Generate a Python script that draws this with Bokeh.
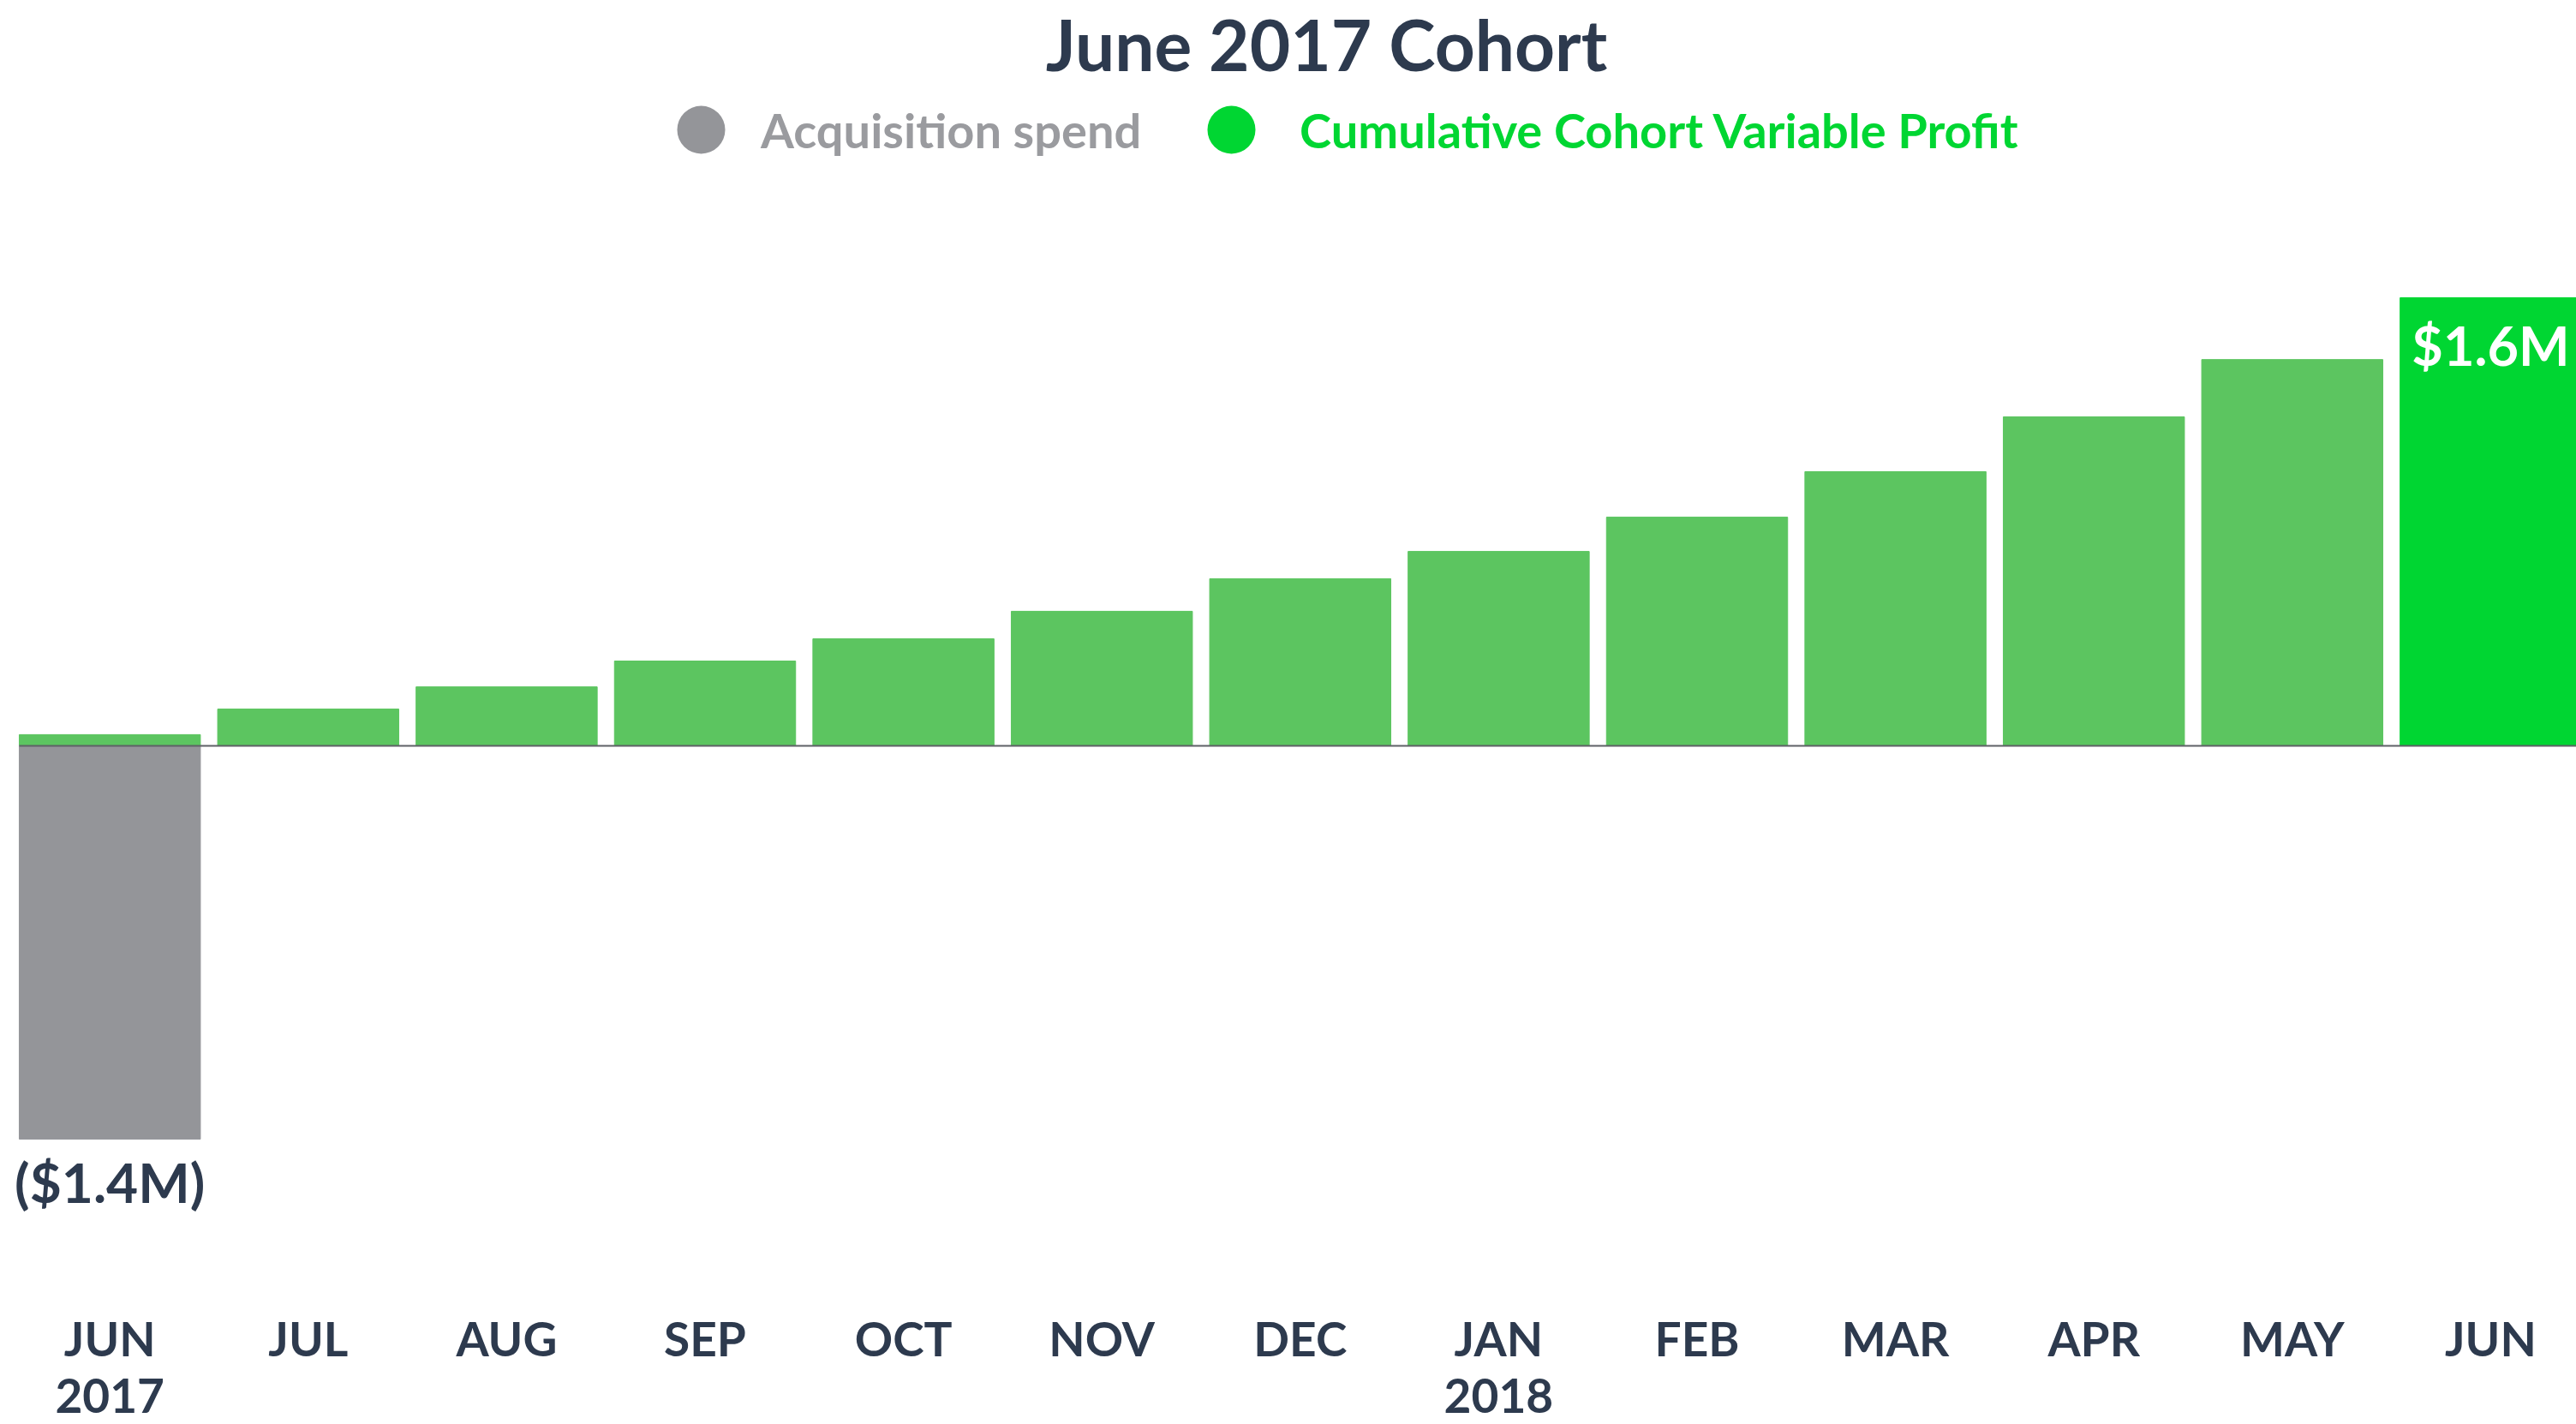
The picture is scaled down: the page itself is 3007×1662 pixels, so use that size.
from bokeh.plotting import figure
from bokeh.models import ColumnDataSource, Range1d, FixedTicker, Legend, LegendItem, Label
from bokeh.core.properties import value
from bokeh.embed import file_html
from bokeh.resources import INLINE

# ---------------- data ----------------
title_text = "June 2017 Cohort"
months = ["JUN", "JUL", "AUG", "SEP", "OCT", "NOV", "DEC", "JAN", "FEB", "MAR", "APR", "MAY", "JUN"]
years = ["2017", "", "", "", "", "", "", "2018", "", "", "", "", ""]
# Cumulative cohort variable profit, $M
profit = [0.040, 0.131, 0.210, 0.302, 0.381, 0.479, 0.595, 0.692, 0.814, 0.976, 1.171, 1.375, 1.595]
# Acquisition spend, $M (first month only)
acq_month_index = [0]
acq_spend = [-1.40]
series_names = ["Acquisition spend", "Cumulative Cohort Variable Profit"]

# ---------------- style ----------------
FONT = "Lato"
NAVY = "#2d3a4e"
GREY = "#949599"
GREY_TEXT = "#9a9b9f"
LIGHT_GREEN = "#5cc560"
BRIGHT_GREEN = "#00d632"
BAR_W = 0.913

x = list(range(len(months)))
bar_colors = [LIGHT_GREEN] * (len(x) - 1) + [BRIGHT_GREEN]

profit_src = ColumnDataSource(dict(x=x, top=profit, color=bar_colors))
acq_src = ColumnDataSource(dict(x=acq_month_index, val=acq_spend,
                                label=["(${:.1f}M)".format(abs(v)) for v in acq_spend]))
last_src = ColumnDataSource(dict(x=[x[-1]], val=[profit[-1]],
                                 label=["${:.1f}M".format(profit[-1])]))

FRAME_H = 1508
p = figure(frame_width=3007, frame_height=FRAME_H,
           x_range=Range1d(-0.5514, 12.4322), y_range=Range1d(-1.9457, 2.6533),
           output_backend="svg", toolbar_location=None,
           min_border_left=0, min_border_right=0, min_border_top=0, min_border_bottom=0,
           background_fill_color="white", border_fill_color="white")
p.outline_line_color = None
p.xgrid.visible = False
p.ygrid.visible = False
p.yaxis.visible = False

# bars
p.vbar(x="x", top="top", bottom=0, width=BAR_W, color="color", source=profit_src)
p.vbar(x="x", top=0, bottom="val", width=BAR_W, color=GREY, source=acq_src)

# zero line across the bars
p.line(x=[x[0] - BAR_W / 2, x[-1] + BAR_W / 2], y=[0, 0], line_color="#5f6167", line_width=2.2)

# value labels
p.text(x="x", y="val", text="label", source=acq_src, y_offset=50,
       text_align="center", text_baseline="alphabetic",
       text_font=value(FONT), text_font_style="bold", text_font_size="64px", text_color=NAVY)
p.text(x="x", y="val", text="label", source=last_src, y_offset=55,
       text_align="center", text_baseline="alphabetic",
       text_font=value(FONT), text_font_style="bold", text_font_size="63px", text_color="white")

# legend proxies (zero-size markers on the real series)
r_acq = p.scatter(x="x", y="val", source=acq_src, size=0, fill_color=GREY, line_color=None)
r_pro = p.scatter(x="x", y="top", source=profit_src, size=0, fill_color=BRIGHT_GREEN, line_color=None)

def make_legend(label, renderer, loc, color, standoff):
    return Legend(items=[LegendItem(label=label, renderers=[renderer])],
                  location=loc, orientation="horizontal",
                  glyph_width=140, glyph_height=140, label_standoff=standoff,
                  padding=0, margin=0, spacing=0,
                  background_fill_alpha=0, border_line_color=None,
                  label_text_font=FONT, label_text_font_size="56px",
                  label_text_font_style="bold", label_text_color=color)

p.add_layout(make_legend(series_names[0], r_acq, (748, 1287), GREY_TEXT, 0))
p.add_layout(make_legend(series_names[1], r_pro, (1367, 1287), BRIGHT_GREEN, 10))

# title
p.add_layout(Label(x=1548, y=1458, x_units="screen", y_units="screen", text=title_text,
                   text_align="center", text_baseline="alphabetic",
                   text_font=FONT, text_font_size="82px", text_font_style="bold",
                   text_color=NAVY))

# x axis
ax = p.xaxis[0]
ax.ticker = FixedTicker(ticks=x)
ax.major_label_overrides = {i: (m + ("\n" + y if y else "")) for i, (m, y) in enumerate(zip(months, years))}
ax.axis_line_color = None
ax.major_tick_line_color = None
ax.minor_tick_line_color = None
ax.major_tick_out = 0
ax.major_tick_in = 0
ax.major_label_standoff = 20
ax.major_label_text_line_height = 1.0
ax.major_label_text_font = FONT
ax.major_label_text_font_size = "55px"
ax.major_label_text_font_style = "bold"
ax.major_label_text_color = NAVY

open("out.html", "w").write(file_html(p, INLINE))
